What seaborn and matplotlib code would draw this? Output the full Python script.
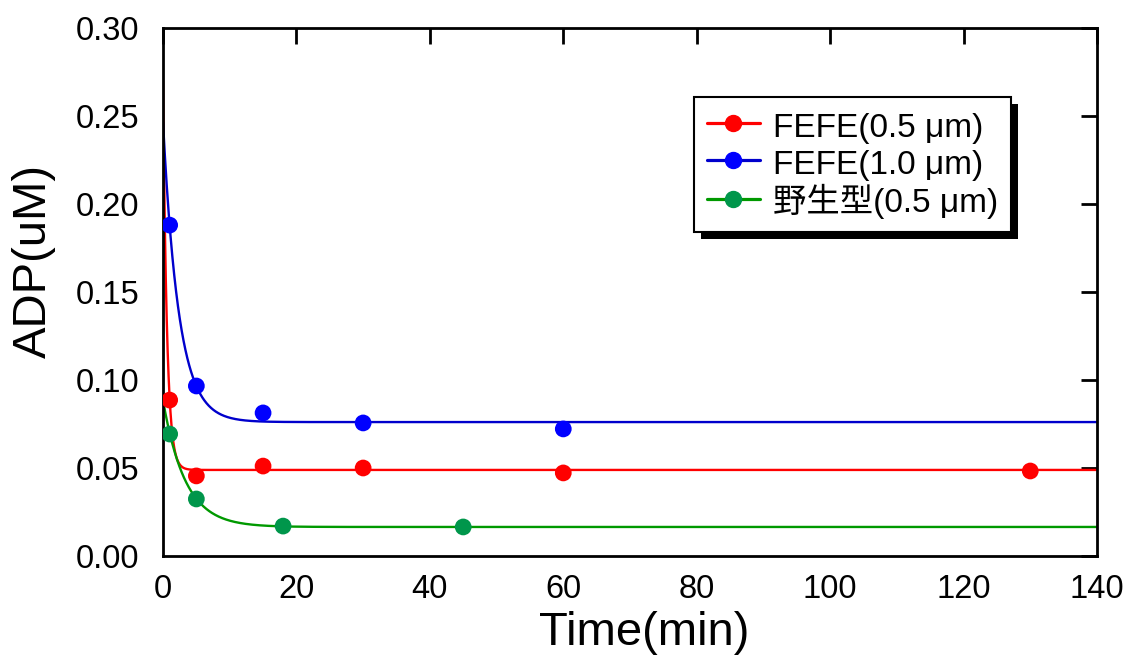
import numpy as np
import pandas as pd
import matplotlib
matplotlib.use("Agg")
import matplotlib.pyplot as plt
import seaborn as sns
from matplotlib.patches import Rectangle
from matplotlib.transforms import IdentityTransform
from matplotlib.lines import Line2D

# ---- data ----
series_names = ["FEFE(0.5 \u03bcm)", "FEFE(1.0 \u03bcm)", "野生型(0.5 \u03bcm)"]

t_fefe05 = [1, 5, 15, 30, 60, 130]
y_fefe05 = [0.0886, 0.0455, 0.0511, 0.0500, 0.0472, 0.0483]

t_fefe10 = [1, 5, 15, 30, 60]
y_fefe10 = [0.188, 0.0966, 0.0813, 0.0756, 0.0722]

t_wild05 = [1, 5, 18, 45]
y_wild05 = [0.0693, 0.0324, 0.0170, 0.0165]

# fitted single-exponential curves: y = plateau + amplitude * exp(-rate * t)
fit_plateau = [0.0489, 0.0761, 0.0165]
fit_amplitude = [0.2211, 0.1705, 0.0720]
fit_rate = [1.7, 0.424, 0.30]

line_colors = ["#FF0000", "#0000CC", "#009900"]
marker_colors = ["#FF0000", "#0000FF", "#00964B"]

x_ticks = [0, 20, 40, 60, 80, 100, 120, 140]
y_ticks = [0.00, 0.05, 0.10, 0.15, 0.20, 0.25, 0.30]

# ---- build frames ----
pts = pd.concat([
    pd.DataFrame({"t": t_fefe05, "y": y_fefe05, "s": series_names[0]}),
    pd.DataFrame({"t": t_fefe10, "y": y_fefe10, "s": series_names[1]}),
    pd.DataFrame({"t": t_wild05, "y": y_wild05, "s": series_names[2]}),
])
tt = np.linspace(0, 140, 2000)
curves = pd.concat([
    pd.DataFrame({"t": tt, "y": p + a * np.exp(-k * tt), "s": n})
    for n, p, a, k in zip(series_names, fit_plateau, fit_amplitude, fit_rate)
])

sns.set_theme(style="white")
plt.rcParams["font.family"] = ["Liberation Sans", "Noto Sans CJK JP", "DejaVu Sans"]

fig = plt.figure(figsize=(11.35, 6.61), dpi=100)
ax = fig.add_axes([163 / 1135, 105 / 661, 934 / 1135, 528 / 661])

sns.lineplot(data=curves, x="t", y="y", hue="s", palette=dict(zip(series_names, line_colors)),
             linewidth=1.7, ax=ax, legend=False, sort=False)
sns.scatterplot(data=pts, x="t", y="y", hue="s", palette=dict(zip(series_names, marker_colors)),
                s=145, edgecolor="none", ax=ax, legend=False, zorder=3)

ax.set_xlim(0, 140)
ax.set_ylim(0, 0.30)
ax.set_xticks(x_ticks)
ax.set_yticks(y_ticks)
ax.set_xticklabels([str(v) for v in x_ticks])
ax.set_yticklabels([f"{v:.2f}" for v in y_ticks])
ax.tick_params(direction="in", length=11.5, width=2, top=True, right=True,
               labelsize=23.5, colors="black", pad=13)
ax.tick_params(axis="y", pad=17)
for sp in ax.spines.values():
    sp.set_visible(True)
    sp.set_color("black")
    sp.set_linewidth(2)
ax.set_xlabel("Time(min)", fontsize=34, color="black")
ax.set_ylabel("ADP(uM)", fontsize=34, color="black")
ax.xaxis.set_label_coords((644 - 163) / 934, (556 - 611) / 528)
ax.yaxis.set_label_coords((12 - 163) / 934, (556 - 261) / 528)
ax.yaxis.label.set_va("top")
ax.grid(False)

# legend with line+marker handles
handles = [Line2D([0], [0], color=lc, lw=2.3, marker="o", markersize=11.5,
                  markerfacecolor=mc, markeredgecolor=mc)
           for lc, mc in zip(line_colors, marker_colors)]
leg = ax.legend(handles, series_names, loc="upper left", bbox_to_anchor=(0.5685, 0.869),
                borderaxespad=0, frameon=True, fancybox=False, fontsize=24,
                handlelength=1.6, handleheight=1.05, handletextpad=0.38,
                labelspacing=0.1, borderpad=0.38)
leg.get_frame().set_edgecolor("black")
leg.get_frame().set_linewidth(1.5)
leg.get_frame().set_alpha(1)
leg.set_zorder(10)
for t in leg.get_texts():
    t.set_color("black")

fig.canvas.draw()
bb = leg.get_window_extent()
shadow = Rectangle((bb.x0 + 7, bb.y0 - 7), bb.width, bb.height, transform=IdentityTransform(),
                   facecolor="black", edgecolor="none", zorder=9, clip_on=False)
ax.add_artist(shadow)

fig.savefig("out.png", dpi=100)
